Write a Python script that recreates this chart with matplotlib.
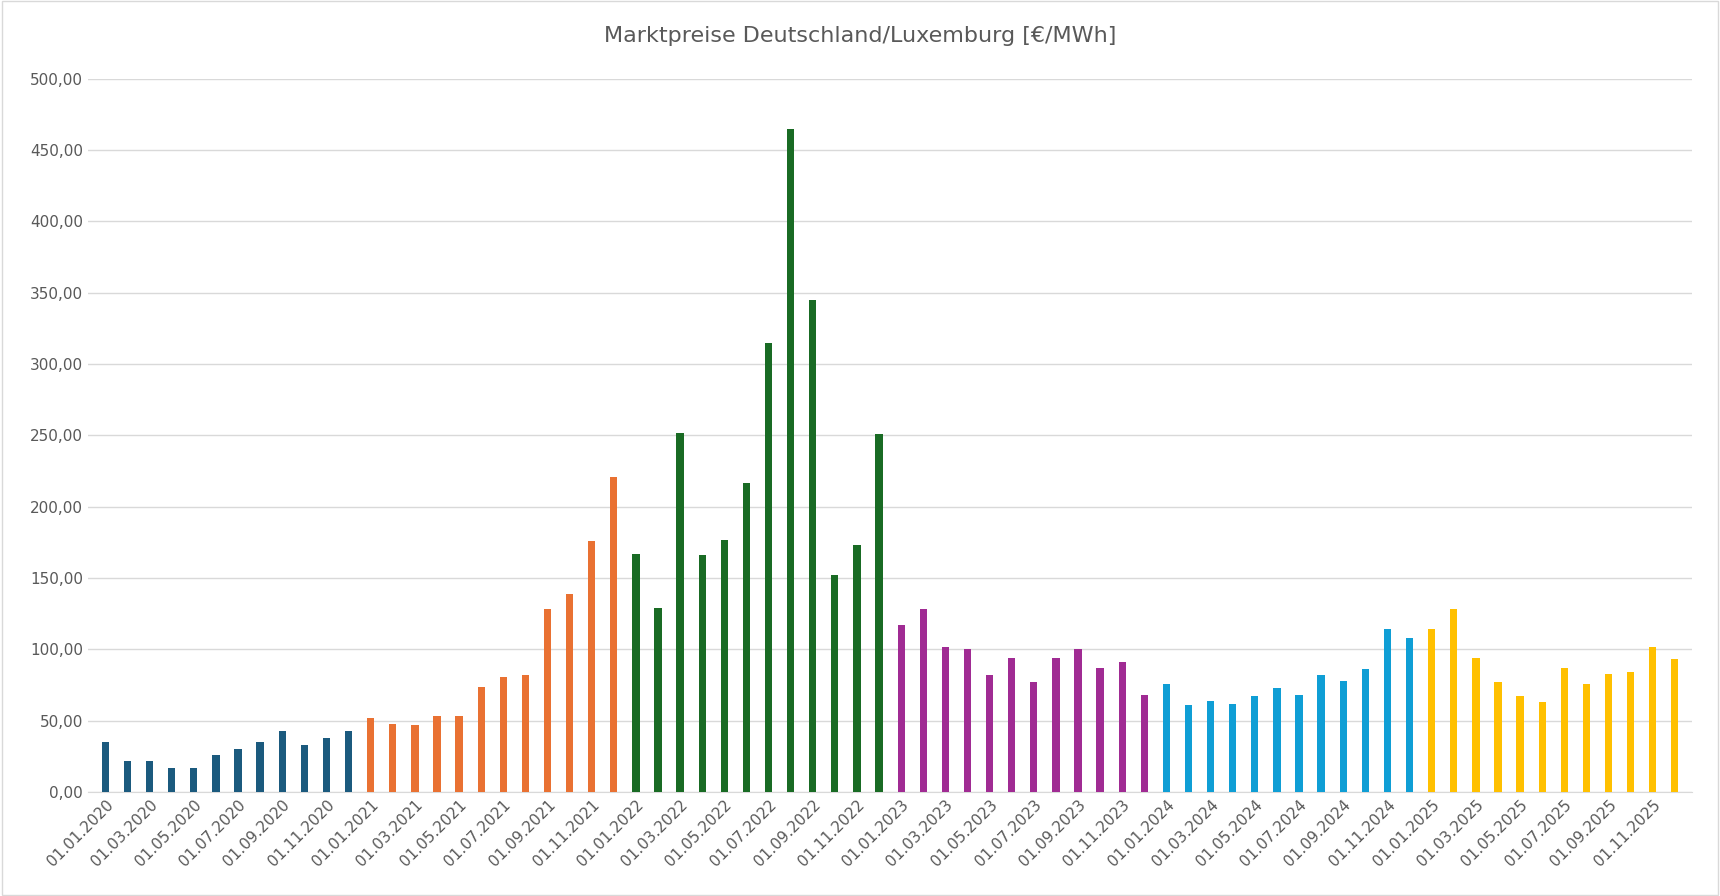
import matplotlib
matplotlib.use("Agg")
import matplotlib.pyplot as plt
import numpy as np

years = [2020, 2021, 2022, 2023, 2024, 2025]
colors = ["#1B5A7E", "#E97132", "#196B24", "#A02B93", "#0F9ED5", "#FFC000"]
prices = {
    2020: [35, 22, 22, 17, 17, 26, 30, 35, 43, 33, 38, 43],
    2021: [52, 48, 47, 53, 53, 74, 81, 82, 128, 139, 176, 221],
    2022: [167, 129, 252, 166, 177, 217, 315, 465, 345, 152, 173, 251],
    2023: [117, 128, 102, 100, 82, 94, 77, 94, 100, 87, 91, 68],
    2024: [76, 61, 64, 62, 67, 73, 68, 82, 78, 86, 114, 108],
    2025: [114, 128, 94, 77, 67, 63, 87, 76, 83, 84, 102, 93],
}

labels, vals, cols = [], [], []
for y, c in zip(years, colors):
    for m, v in enumerate(prices[y], start=1):
        labels.append(f"01.{m:02d}.{y}")
        vals.append(v)
        cols.append(c)

fig = plt.figure(figsize=(17.2, 8.96), dpi=100)
ax = fig.add_axes([0.051, 0.116, 0.933, 0.796])
x = np.arange(len(vals))
ax.bar(x, vals, width=0.33, color=cols, zorder=3)

ax.set_ylim(0, 500)
ax.set_yticks(np.arange(0, 501, 50))
ax.set_yticklabels([f"{v:.2f}".replace(".", ",") for v in range(0, 501, 50)],
                   fontsize=11, color="#595959")
ax.set_xlim(-0.8, len(vals) - 0.2)
ax.set_xticks(x[::2])
ax.set_xticklabels(labels[::2], rotation=45, ha="right", rotation_mode="anchor",
                   fontsize=11, color="#595959")
ax.grid(axis="y", color="#D9D9D9", linewidth=1, zorder=0)
for s in ["top", "right", "left"]:
    ax.spines[s].set_visible(False)
ax.spines["bottom"].set_color("#D9D9D9")
ax.tick_params(length=0)
fig.text(0.5, 0.96, "Marktpreise Deutschland/Luxemburg [€/MWh]", ha="center", va="center",
         fontsize=16, color="#595959")
fig.patches.append(plt.Rectangle((0.001, 0.001), 0.998, 0.998, transform=fig.transFigure,
                                 fill=False, edgecolor="#D9D9D9", linewidth=1))
fig.savefig("out.png", dpi=100)
